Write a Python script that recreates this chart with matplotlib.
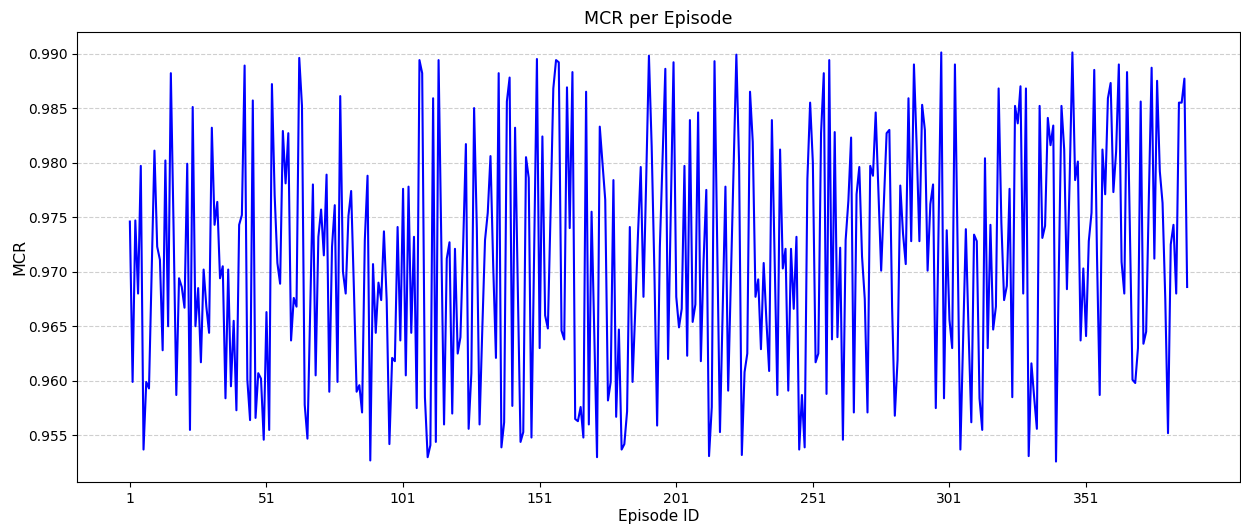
import matplotlib
matplotlib.use("Agg")
import matplotlib.pyplot as plt
import numpy as np

mcr_001_050 = [0.9746, 0.9599, 0.9747, 0.9680, 0.9797, 0.9537, 0.9599, 0.9593, 0.9702, 0.9811,
               0.9723, 0.9711, 0.9628, 0.9802, 0.9650, 0.9882, 0.9740, 0.9587, 0.9694, 0.9686,
               0.9667, 0.9799, 0.9555, 0.9851, 0.9650, 0.9685, 0.9617, 0.9702, 0.9668, 0.9644,
               0.9832, 0.9743, 0.9764, 0.9694, 0.9705, 0.9584, 0.9702, 0.9595, 0.9655, 0.9573,
               0.9743, 0.9752, 0.9889, 0.9601, 0.9564, 0.9857, 0.9566, 0.9607, 0.9602, 0.9546]
mcr_051_100 = [0.9663, 0.9555, 0.9872, 0.9770, 0.9708, 0.9689, 0.9829, 0.9781, 0.9827, 0.9637,
               0.9676, 0.9668, 0.9896, 0.9852, 0.9578, 0.9547, 0.9663, 0.9780, 0.9605, 0.9732,
               0.9757, 0.9715, 0.9789, 0.9590, 0.9723, 0.9761, 0.9599, 0.9861, 0.9700, 0.9680,
               0.9751, 0.9774, 0.9685, 0.9590, 0.9596, 0.9571, 0.9729, 0.9788, 0.9527, 0.9707,
               0.9644, 0.9690, 0.9674, 0.9737, 0.9674, 0.9542, 0.9621, 0.9618, 0.9741, 0.9637]
mcr_101_150 = [0.9776, 0.9605, 0.9778, 0.9644, 0.9732, 0.9575, 0.9894, 0.9882, 0.9585, 0.9530,
               0.9541, 0.9859, 0.9544, 0.9894, 0.9725, 0.9560, 0.9712, 0.9727, 0.9570, 0.9721,
               0.9625, 0.9640, 0.9725, 0.9817, 0.9556, 0.9607, 0.9850, 0.9740, 0.9560, 0.9647,
               0.9729, 0.9754, 0.9806, 0.9705, 0.9621, 0.9882, 0.9539, 0.9562, 0.9856, 0.9878,
               0.9577, 0.9832, 0.9685, 0.9544, 0.9553, 0.9805, 0.9786, 0.9548, 0.9725, 0.9895]
mcr_151_200 = [0.9630, 0.9824, 0.9660, 0.9648, 0.9755, 0.9868, 0.9894, 0.9892, 0.9646, 0.9638,
               0.9869, 0.9740, 0.9883, 0.9565, 0.9563, 0.9576, 0.9548, 0.9865, 0.9560, 0.9755,
               0.9644, 0.9530, 0.9833, 0.9800, 0.9766, 0.9582, 0.9599, 0.9784, 0.9567, 0.9647,
               0.9537, 0.9542, 0.9572, 0.9741, 0.9599, 0.9665, 0.9735, 0.9796, 0.9677, 0.9785,
               0.9898, 0.9815, 0.9700, 0.9559, 0.9723, 0.9806, 0.9886, 0.9620, 0.9755, 0.9892]
mcr_201_250 = [0.9677, 0.9649, 0.9666, 0.9797, 0.9623, 0.9839, 0.9654, 0.9670, 0.9846, 0.9618,
               0.9710, 0.9775, 0.9531, 0.9576, 0.9893, 0.9723, 0.9553, 0.9665, 0.9778, 0.9591,
               0.9694, 0.9797, 0.9899, 0.9800, 0.9532, 0.9608, 0.9625, 0.9865, 0.9819, 0.9677,
               0.9693, 0.9629, 0.9708, 0.9655, 0.9609, 0.9839, 0.9715, 0.9587, 0.9812, 0.9703,
               0.9721, 0.9591, 0.9721, 0.9666, 0.9732, 0.9537, 0.9587, 0.9539, 0.9785, 0.9855]
mcr_251_300 = [0.9800, 0.9617, 0.9625, 0.9827, 0.9882, 0.9588, 0.9894, 0.9638, 0.9828, 0.9640,
               0.9722, 0.9546, 0.9729, 0.9765, 0.9823, 0.9571, 0.9771, 0.9796, 0.9714, 0.9675,
               0.9571, 0.9797, 0.9788, 0.9846, 0.9772, 0.9701, 0.9765, 0.9827, 0.9830, 0.9668,
               0.9568, 0.9619, 0.9779, 0.9735, 0.9707, 0.9859, 0.9728, 0.9890, 0.9815, 0.9728,
               0.9853, 0.9830, 0.9701, 0.9762, 0.9780, 0.9575, 0.9740, 0.9901, 0.9584, 0.9738]
mcr_301_350 = [0.9656, 0.9630, 0.9890, 0.9720, 0.9537, 0.9640, 0.9739, 0.9645, 0.9562, 0.9734,
               0.9728, 0.9584, 0.9555, 0.9804, 0.9630, 0.9743, 0.9647, 0.9668, 0.9868, 0.9745,
               0.9674, 0.9687, 0.9776, 0.9585, 0.9852, 0.9836, 0.9870, 0.9680, 0.9868, 0.9531,
               0.9616, 0.9585, 0.9556, 0.9852, 0.9731, 0.9742, 0.9841, 0.9816, 0.9834, 0.9526,
               0.9695, 0.9852, 0.9812, 0.9684, 0.9785, 0.9901, 0.9784, 0.9801, 0.9637, 0.9703]
mcr_351_388 = [0.9641, 0.9728, 0.9754, 0.9885, 0.9715, 0.9587, 0.9812, 0.9771, 0.9859, 0.9873,
               0.9773, 0.9810, 0.9890, 0.9709, 0.9680, 0.9883, 0.9745, 0.9601, 0.9598, 0.9630,
               0.9856, 0.9634, 0.9645, 0.9770, 0.9887, 0.9712, 0.9875, 0.9792, 0.9763, 0.9675,
               0.9552, 0.9725, 0.9743, 0.9680, 0.9855, 0.9855, 0.9877, 0.9686]

mcr = (mcr_001_050 + mcr_051_100 + mcr_101_150 + mcr_151_200 +
       mcr_201_250 + mcr_251_300 + mcr_301_350 + mcr_351_388)
episode_ids = list(range(1, len(mcr) + 1))
xtick_labels = [1, 51, 101, 151, 201, 251, 301, 351]

fig = plt.figure(figsize=(12.41, 5.25), dpi=100)
ax = fig.add_axes([77 / 1241, 1 - 482 / 525, (1240 - 77) / 1241, (482 - 32) / 525])
ax.plot(episode_ids, mcr, color="blue", linewidth=1.5)
ax.set_title("MCR per Episode", fontsize=12.5, pad=6)
ax.set_xlabel("Episode ID", fontsize=11, labelpad=2)
ax.set_ylabel("MCR", fontsize=11.5, labelpad=0)
ax.set_xticks(xtick_labels)
ax.set_xticklabels([str(v) for v in xtick_labels])
ax.tick_params(labelsize=10)
ax.grid(axis="y", linestyle="--", alpha=0.6)
fig.savefig("out.png", dpi=100)
